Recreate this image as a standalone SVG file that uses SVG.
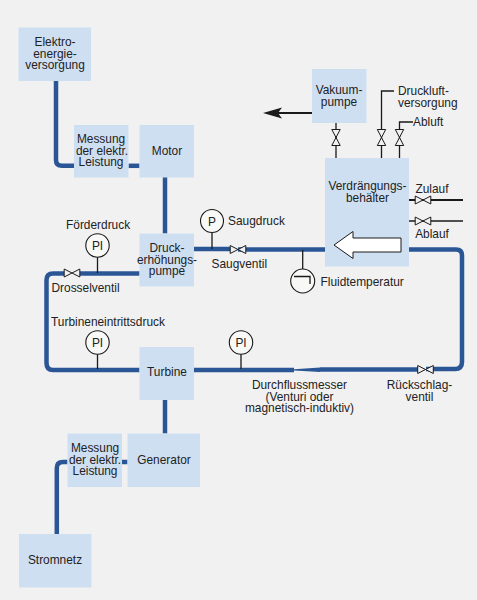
<svg xmlns="http://www.w3.org/2000/svg" width="477" height="600" viewBox="0 0 477 600">
<style>
.box{fill:#cfdff2}
.pipe{fill:none;stroke:#2a5696;stroke-width:4.5}
.line{fill:none;stroke:#1a1a1a;stroke-width:1.3}
.thick{fill:none;stroke:#1a1a1a;stroke-width:1.8}
.valve{fill:#f1f1f1;stroke:#1a1a1a;stroke-width:1}
.gauge{fill:#f8f8f6;stroke:#1a1a1a;stroke-width:1.1}
text{font-family:"Liberation Sans",Arial,sans-serif;font-size:11.9px;fill:#222}
.m{text-anchor:middle}
</style>
<defs>
<path id="vh" class="valve" d="M-7.8-4L7.8 4V-4L-7.8 4Z"/>
<path id="vv" class="valve" d="M-4.2-8L4.2 8H-4.2L4.2-8Z"/>
</defs>
<rect width="477" height="600" fill="#f1f1f1"/>
<g id="connectors">
<path class="pipe" d="M56 81V160Q56 165.8 62 165.8H74"/>
<path class="pipe" d="M128.5 165.8H139.5"/>
<path class="pipe" d="M165 177V233.5"/>
<path class="pipe" d="M194 249H232"/>
<path class="pipe" d="M238 249.5H325"/>
<path class="pipe" d="M409 249.5H456Q462 249.5 462 255.5V362Q462 369 455 369H426"/>
<path class="pipe" d="M418 369.5H320"/>
<path d="M320 367.5L294 369.3V370.5L320 372Z" fill="#2a5696"/>
<path class="pipe" d="M294 370H194"/>
<path class="pipe" d="M139.5 273.5H80"/>
<path class="pipe" d="M64 273.5H53Q46.5 273.5 46.5 280V363Q46.5 370 53 370H139.5"/>
<path class="pipe" d="M165 400V433.5"/>
<path class="pipe" d="M122 462H127.5"/>
<path class="pipe" d="M67.5 462H63Q56.8 462 56.8 468V534"/>
<path class="line" d="M97.5 257V273"/>
<path class="line" d="M212 232V249"/>
<path class="line" d="M97.5 354V369"/>
<path class="line" d="M241 354V369"/>
<path class="line" d="M302.7 250V269"/>
<path class="line" d="M336 123V158"/>
<path class="line" d="M381.5 158V91H394"/>
<path class="line" d="M399.5 158V122H413"/>
<path class="thick" d="M409 200H463"/>
<path class="line" d="M409 221H463"/>
<path class="thick" d="M312 113H275"/>
<path d="M263 113L282 107.5L278 113L282 118.5Z" fill="#1a1a1a"/>
<use href="#vh" x="72" y="273"/>
<use href="#vh" x="238" y="249.5"/>
<use href="#vh" x="425.5" y="369.5"/>
<use href="#vh" x="423" y="200"/>
<use href="#vh" x="423" y="221"/>
<use href="#vv" x="336" y="137.5"/>
<use href="#vv" x="381.5" y="137.5"/>
<use href="#vv" x="399.5" y="137.5"/>
</g>
<g id="elektro"><rect class="box" x="18.5" y="27.5" width="72.5" height="53.5"/><text class="m" x="55" y="46">Elektro-</text><text class="m" x="55" y="57.5">energie-</text><text class="m" x="55" y="69">versorgung</text></g>
<g id="messung1"><rect class="box" x="74" y="125" width="54.5" height="52.5"/><text class="m" x="101" y="143">Messung</text><text class="m" x="102" y="154.5">der elektr.</text><text class="m" x="101" y="166">Leistung</text></g>
<g id="motor"><rect class="box" x="139.5" y="125" width="54.5" height="52.5"/><text class="m" x="167" y="155">Motor</text></g>
<g id="pumpe"><rect class="box" x="139.5" y="233.5" width="54.5" height="53"/><text class="m" x="167" y="252">Druck-</text><text class="m" x="167" y="263.5">erhöhungs-</text><text class="m" x="167" y="275">pumpe</text></g>
<g id="turbine"><rect class="box" x="139.5" y="347" width="54.5" height="53"/><text class="m" x="167" y="376">Turbine</text></g>
<g id="generator"><rect class="box" x="127.5" y="433.5" width="72.5" height="53.5"/><text class="m" x="164" y="464">Generator</text></g>
<g id="messung2"><rect class="box" x="67.5" y="433.5" width="54.5" height="53.5"/><text class="m" x="95" y="452">Messung</text><text class="m" x="95" y="463.5">der elektr.</text><text class="m" x="95" y="475">Leistung</text></g>
<g id="stromnetz"><rect class="box" x="19" y="534" width="72.5" height="53.5"/><text class="m" x="55" y="564">Stromnetz</text></g>
<g id="vakuum"><rect class="box" x="312" y="69" width="54.5" height="54"/><text class="m" x="339" y="94">Vakuum-</text><text class="m" x="339" y="105.5">pumpe</text></g>
<g id="behaelter"><rect class="box" x="325" y="158" width="84" height="108.5"/><text class="m" x="367.5" y="190">Verdrängungs-</text><text class="m" x="367.5" y="201.5">behälter</text><path d="M334 245L353 231.5V238H401V252H353V258.5Z" fill="#fff" stroke="#1a1a1a" stroke-width="1"/></g>
<g id="g-foerderdruck"><circle class="gauge" cx="97.5" cy="245.5" r="11.7"/><text class="m" x="97.5" y="250">PI</text></g>
<g id="g-saugdruck"><circle class="gauge" cx="212" cy="221" r="11.5"/><text class="m" x="212" y="225.5">P</text></g>
<g id="g-turbine"><circle class="gauge" cx="97.5" cy="342.5" r="11.7"/><text class="m" x="97.5" y="347">PI</text></g>
<g id="g-durchfluss"><circle class="gauge" cx="241" cy="342.5" r="11.7"/><text class="m" x="241" y="347">PI</text></g>
<g id="g-fluid"><circle class="gauge" cx="302.7" cy="281" r="12"/><path class="line" d="M294 276.5H310V284"/></g>
<g id="labels">
<text x="66" y="229">Förderdruck</text>
<text x="228" y="225">Saugdruck</text>
<text x="211.5" y="268">Saugventil</text>
<text x="51.5" y="292">Drosselventil</text>
<text x="51" y="325.5">Turbineneintrittsdruck</text>
<text class="m" x="299.5" y="389">Durchflussmesser</text>
<text class="m" x="299.5" y="400.5">(Venturi oder</text>
<text class="m" x="299.5" y="412">magnetisch-induktiv)</text>
<text class="m" x="419.5" y="389">Rückschlag-</text>
<text class="m" x="419.5" y="400.5">ventil</text>
<text x="398" y="95">Druckluft-</text>
<text x="398" y="106.5">versorgung</text>
<text x="413" y="126">Abluft</text>
<text class="m" x="432" y="193">Zulauf</text>
<text class="m" x="432" y="238">Ablauf</text>
<text x="320.5" y="286">Fluidtemperatur</text>
</g>
</svg>
